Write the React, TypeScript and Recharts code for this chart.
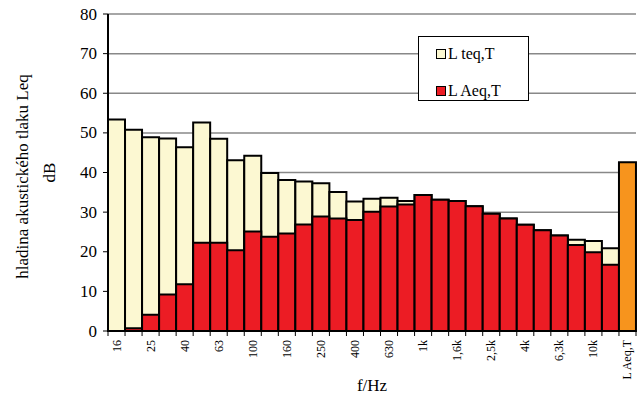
import React from 'react';
import { BarChart, Bar, XAxis, YAxis, CartesianGrid, Cell, Legend, Label } from 'recharts';

const categories = ['16', '20', '25', '31,5', '40', '50', '63', '80', '100', '125', '160', '200', '250', '315', '400', '500', '630', '800', '1k', '1,25k', '1,6k', '2k', '2,5k', '3,15k', '4k', '5k', '6,3k', '8k', '10k', '12,5k', 'L Aeq,T'];
const lTeq: (number | null)[] = [53.4, 50.8, 48.9, 48.6, 46.4, 52.6, 48.5, 43.1, 44.2, 39.9, 38.1, 37.7, 37.3, 35.1, 32.7, 33.4, 33.6, 32.8, 34.3, 33.1, 32.8, 31.5, 29.6, 28.4, 26.8, 25.4, 24.1, 23.0, 22.7, 20.9, null];
const lAeq: (number | null)[] = [0, 0.7, 4.1, 9.2, 11.8, 22.3, 22.3, 20.4, 25.1, 23.8, 24.6, 26.9, 28.9, 28.4, 28.0, 30.1, 31.4, 31.9, 34.3, 33.1, 32.8, 31.5, 29.6, 28.4, 26.8, 25.4, 24.1, 21.7, 19.9, 16.7, null];
const lAeqTotal = 42.6;
const yTicks = [0, 10, 20, 30, 40, 50, 60, 70, 80];

const CREAM = '#FCF8D2';
const RED = '#EC1C24';
const ORANGE = '#F7941D';
const FONT = "'Liberation Serif', 'Times New Roman', serif";
const TXT: React.CSSProperties = { fontFamily: FONT };

const W = 642;
const H = 400;
const PLOT_LEFT = 108;
const PLOT_RIGHT_MARGIN = 6;
const BAND = (W - PLOT_LEFT - PLOT_RIGHT_MARGIN) / categories.length;

const data = categories.map((name, i) => ({
  name,
  teq: lTeq[i],
  aeq: lAeq[i],
  total: i === categories.length - 1 ? lAeqTotal : null,
}));

const XTick = (props: any) => {
  const { x, y, payload, index } = props;
  const last = index === categories.length - 1;
  const showLabel = index % 2 === 0;
  return (
    <g>
      <line x1={x - BAND / 2} y1={y} x2={x - BAND / 2} y2={y + 5} stroke="#000" strokeWidth={1} />
      {last && <line x1={x + BAND / 2} y1={y} x2={x + BAND / 2} y2={y + 5} stroke="#000" strokeWidth={1} />}
      {showLabel && (
        <text
          x={x}
          y={y + 9}
          transform={`rotate(-90 ${x} ${y + 9})`}
          textAnchor="end"
          dominantBaseline="central"
          style={{ ...TXT, fontSize: 12 }}
          fill="#000"
        >
          {payload.value}
        </text>
      )}
    </g>
  );
};

const YTick = (props: any) => {
  const { x, y, payload } = props;
  return (
    <text x={x} y={y} textAnchor="end" dominantBaseline="central" style={{ ...TXT, fontSize: 17 }} fill="#000">
      {payload.value}
    </text>
  );
};

const YTitle = (props: any) => {
  const vb = props.viewBox || {};
  const cy = vb.y + vb.height / 2 + 4;
  return (
    <g>
      <text x={22} y={cy} transform={`rotate(-90 22 ${cy})`} textAnchor="middle" dominantBaseline="central" style={{ ...TXT, fontSize: 17 }} fill="#000">
        hladina akustického tlaku Leq
      </text>
      <text x={49} y={cy - 4} transform={`rotate(-90 49 ${cy - 4})`} textAnchor="middle" dominantBaseline="central" style={{ ...TXT, fontSize: 17 }} fill="#000">
        dB
      </text>
    </g>
  );
};

const XTitle = (props: any) => {
  const vb = props.viewBox || {};
  const cx = vb.x + vb.width / 2;
  return (
    <text x={cx} y={385} textAnchor="middle" dominantBaseline="central" style={{ ...TXT, fontSize: 17 }} fill="#000">
      f/Hz
    </text>
  );
};

const legendItems = [
  { label: 'L teq,T', color: CREAM },
  { label: 'L Aeq,T', color: RED },
];

const LegendBox = () => (
  <div
    style={{
      width: 111,
      height: 65,
      boxSizing: 'border-box',
      border: '1px solid #000',
      background: '#fff',
      fontFamily: FONT,
      fontSize: 16,
      position: 'relative',
    }}
  >
    {legendItems.map((it, i) => (
      <div key={it.label} style={{ position: 'absolute', left: 17, top: 8 + i * 37, display: 'flex', alignItems: 'center', whiteSpace: 'nowrap', lineHeight: '18px' }}>
        <span style={{ display: 'inline-block', width: 8, height: 8, background: it.color, border: '1.5px solid #000', marginRight: 2 }} />
        <span>{it.label}</span>
      </div>
    ))}
  </div>
);

export default function App() {
  return (
    <div style={{ position: 'absolute', left: 0, top: 0, width: W, height: H, background: '#fff', fontFamily: FONT }}>
      <BarChart
        width={W}
        height={H}
        data={data}
        margin={{ top: 14, right: PLOT_RIGHT_MARGIN, left: 0, bottom: 0 }}
        barCategoryGap={0}
        barGap={0}
        style={{ fontFamily: FONT }}
      >
        <CartesianGrid xAxisId="a" yAxisId="l" vertical={false} stroke="#888" strokeWidth={1.5} />
        <XAxis
          xAxisId="a"
          dataKey="name"
          height={69}
          interval={0}
          tickLine={false}
          tickSize={0}
          tickMargin={0}
          tick={<XTick />}
          axisLine={{ stroke: '#000', strokeWidth: 2 }}
        >
          <Label content={<XTitle />} />
        </XAxis>
        <XAxis xAxisId="b" dataKey="name" orientation="top" height={0} tick={false} tickLine={false} axisLine={{ stroke: '#000', strokeWidth: 2 }} />
        <YAxis
          yAxisId="l"
          width={PLOT_LEFT}
          domain={[0, 80]}
          ticks={yTicks}
          interval={0}
          tickSize={5}
          tickMargin={6}
          tickLine={{ stroke: '#000' }}
          axisLine={{ stroke: '#000', strokeWidth: 2 }}
          tick={<YTick />}
        >
          <Label content={<YTitle />} />
        </YAxis>
        <YAxis yAxisId="r" orientation="right" width={0} domain={[0, 80]} tick={false} tickLine={false} axisLine={{ stroke: '#000', strokeWidth: 2 }} />
        <Legend
          layout="vertical"
          verticalAlign="middle"
          align="center"
          wrapperStyle={{ left: 418, top: 36, width: 111, height: 65 }}
          content={<LegendBox />}
        />
        <Bar xAxisId="a" yAxisId="l" dataKey="teq" fill={CREAM} stroke="#000" strokeWidth={2} isAnimationActive={false} />
        <Bar xAxisId="b" yAxisId="l" dataKey="aeq" stackId="s" fill={RED} stroke="#000" strokeWidth={2} isAnimationActive={false} />
        <Bar xAxisId="b" yAxisId="l" dataKey="total" stackId="s" fill={ORANGE} stroke="#000" strokeWidth={2} isAnimationActive={false}>
          {data.map((d) => (
            <Cell key={d.name} fill={ORANGE} />
          ))}
        </Bar>
      </BarChart>
    </div>
  );
}
